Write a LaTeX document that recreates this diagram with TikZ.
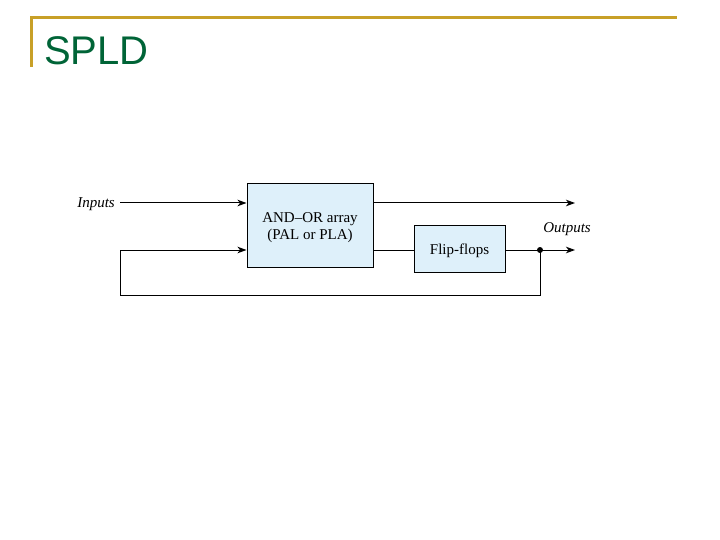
\documentclass[tikz,border=0pt]{standalone}
\usepackage{fontspec}
\setmainfont{Liberation Serif}
\newfontfamily\titlefont{Liberation Sans}
\usetikzlibrary{arrows.meta}
\definecolor{slidegold}{RGB}{200,160,40}
\definecolor{slidegreen}{RGB}{0,100,55}
\definecolor{boxblue}{RGB}{222,240,250}
\tikzset{
  block/.style={draw, line width=1pt, fill=boxblue, inner sep=0pt},
  blocktext/.style={align=center, inner sep=0pt, yshift=-2pt, font=\fontsize{15}{17}\selectfont},
  wire/.style={line width=1pt},
  arr/.style={wire, -{Stealth[length=9pt, width=6.5pt, inset=2.5pt]}},
  lbl/.style={font=\fontsize{15}{17}\selectfont\itshape, inner sep=0pt}
}
\begin{document}
\begin{tikzpicture}[x=1pt, y=-1pt]
    \useasboundingbox (0,0) rectangle (720,540);

    % Title bar
    \draw[slidegold, line width=3pt] (31,67) -- (31,18) -- (677,18);
    \node[anchor=base west, inner sep=0pt, text=slidegreen, font=\titlefont\fontsize{40}{48}\selectfont] (title) at (44,65) {SPLD};

    % Blocks
    \node[block, minimum width=126pt, minimum height=83pt] (andor) at (310,225.5) {};
    \node[blocktext] (andortext) at (andor.center) {AND--OR array\\(PAL or PLA)};
    \node[block, minimum width=91pt, minimum height=47pt] (ff) at (459.5,249) {};
    \node[blocktext] (fftext) at (ff.center) {Flip-flops};

    % Labels
    \node[lbl, anchor=east] (inputs) at (115,204) {Inputs};
    \node[lbl] (outputs) at (567,229) {Outputs};

    % Points
    \coordinate (tap) at (540,250);
    \coordinate (loop) at (120,295);
    \coordinate (out1) at (575,203);
    \coordinate (out2) at (575,250);

    % Wires
    \draw[arr] (inputs.east) ++(5,-1) coordinate (instart) -- (instart -| andor.west);
    \draw[arr] (andor.east |- out1) -- (out1);
    \draw[wire] (andor.east |- tap) -- (ff.west |- tap);
    \draw[arr] (ff.east |- tap) -- (out2);
    \draw[arr] (tap) |- (loop) |- (andor.west |- tap);
    \fill (tap) circle (3pt);
\end{tikzpicture}
\end{document}
